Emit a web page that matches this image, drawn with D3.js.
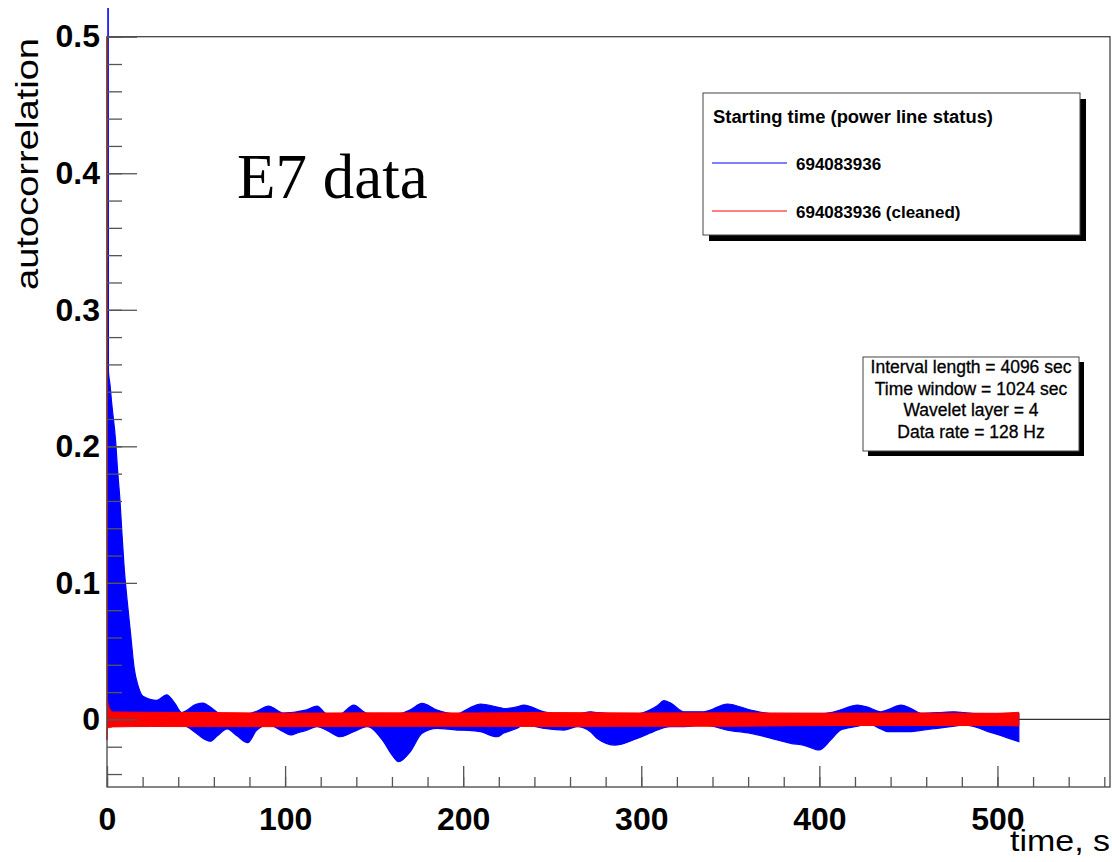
<!DOCTYPE html>
<html>
<head>
<meta charset="utf-8">
<script src="https://cdn.jsdelivr.net/npm/d3@7"></script>
<style>
body{margin:0;background:#fff;}
</style>
</head>
<body>
<div id="chart"></div>
<script>
// axis ticks
const timeTicks = [0,100,200,300,400,500];
const timeMinor = d3.range(0,561,20);
const corrTicks = [0,0.1,0.2,0.3,0.4,0.5];
const corrMinor = d3.range(-4,51,2).map(d=>d/100);

// blue band (raw), envelope
const blueTime = [0.5,0.8,1.7,2.6,4.9,5.8,7.3,8.4,9.6,11.4,13.3,15.2,17.6,20.2,28,33.5,38,42,50,54,58,62,67.5,73,79,84,90.7,99,103,106.6,112.2,117.9,123.5,131,138.5,146,155.3,160,163.7,170.3,176.9,185.3,196.6,203,209.7,219,222.8,230.3,234,245.3,256.5,264,271.5,275.3,285.6,297.7,305,309,312.7,316.5,324,335.2,348.3,361.4,376.4,383.9,391.4,399.8,406.4,412,421.4,427,434.5,438.3,445.8,451.4,457,466.4,475.7,481.3,488.9,492.6,503.8,512];
const blueHigh = [1.0,0.255,0.245,0.232,0.203,0.185,0.160,0.136,0.112,0.086,0.062,0.038,0.024,0.017,0.014,0.018,0.012,0.005,0.011,0.012,0.009,0.005,0.003,0.004,0.004,0.006,0.0098,0.0047,0.005,0.0056,0.007,0.0098,0.004,0.004,0.0105,0.0045,0.004,0.004,0.004,0.007,0.0118,0.0069,0.004,0.008,0.0113,0.009,0.008,0.0093,0.0105,0.0056,0.004,0.004,0.0056,0.005,0.004,0.004,0.007,0.010,0.0137,0.012,0.0056,0.0056,0.0113,0.0069,0.0037,0.004,0.004,0.004,0.005,0.007,0.0105,0.009,0.0056,0.007,0.0105,0.008,0.0045,0.005,0.0056,0.005,0.004,0.004,0.004,0.004];
const blueLow = [-0.004,-0.004,-0.004,-0.004,-0.004,-0.004,-0.004,-0.004,-0.004,-0.004,-0.004,-0.004,-0.004,-0.004,-0.004,-0.004,-0.004,-0.004,-0.010,-0.014,-0.016,-0.012,-0.007,-0.012,-0.017,-0.008,-0.004,-0.009,-0.0114,-0.010,-0.0078,-0.0053,-0.008,-0.0127,-0.009,-0.0053,-0.0163,-0.026,-0.031,-0.0236,-0.0102,-0.0065,-0.0078,-0.008,-0.009,-0.0127,-0.010,-0.0065,-0.004,-0.0065,-0.0078,-0.0053,-0.009,-0.0139,-0.0188,-0.0139,-0.010,-0.0078,-0.006,-0.0053,-0.0053,-0.004,-0.0078,-0.0102,-0.015,-0.0175,-0.019,-0.0224,-0.015,-0.0078,-0.005,-0.003,-0.007,-0.009,-0.009,-0.009,-0.008,-0.0065,-0.005,-0.004,-0.006,-0.0078,-0.0127,-0.0163];

// red band (cleaned)
const redTime = [0,0.3,1.5,3,25,60,100,150,200,250,300,350,400,450,500,512];
const redHigh = [1.0,0.014,0.008,0.0055,0.0052,0.005,0.0046,0.0048,0.0047,0.0050,0.0047,0.0048,0.0046,0.0047,0.0045,0.0052];
const redLow = [-0.015,-0.006,-0.006,-0.0055,-0.0052,-0.0053,-0.0053,-0.0050,-0.0050,-0.0052,-0.0050,-0.0050,-0.0045,-0.0045,-0.0045,-0.0048];

const legendTitle = "Starting time (power line status)";
const legendNames = ["694083936","694083936 (cleaned)"];
const legendColors = ["#0000ff","#ff0000"];
const infoLines = ["Interval length = 4096 sec","Time window = 1024 sec","Wavelet layer = 4","Data rate = 128 Hz"];

const width = 1112, height = 862;
const plotLeft = 107, plotRight = 1110, plotTop = 36.7, plotBottom = 787;

const svg = d3.select("#chart").append("svg")
    .attr("width", width)
    .attr("height", height)
    .style("font-family","'Liberation Sans', Arial, sans-serif");

svg.append("rect").attr("width",width).attr("height",height).attr("fill","#fff");

const x = d3.scaleLinear().domain([0,563.2]).range([plotLeft,plotRight]);
const y = d3.scaleLinear().domain([-0.0495,0.5]).range([plotBottom,plotTop]);

const defs = svg.append("defs");
defs.append("clipPath").attr("id","clipBlue").append("rect")
    .attr("x",plotLeft).attr("y",8).attr("width",plotRight-plotLeft).attr("height",plotBottom-8);
defs.append("clipPath").attr("id","clipRed").append("rect")
    .attr("x",plotLeft-1).attr("y",plotTop).attr("width",plotRight-plotLeft+1).attr("height",plotBottom-plotTop);

// zero line
svg.append("line")
    .attr("x1",x(0)).attr("x2",plotRight)
    .attr("y1",y(0)).attr("y2",y(0))
    .attr("stroke","#333").attr("stroke-width",1.2);

// bands
const blueData = blueTime.map((t,i)=>({t:t,hi:blueHigh[i],lo:blueLow[i]}));
const redData = redTime.map((t,i)=>({t:t,hi:redHigh[i],lo:redLow[i]}));
const area = d3.area()
    .curve(d3.curveMonotoneX)
    .x(d=>x(d.t))
    .y0(d=>y(d.lo))
    .y1(d=>y(d.hi));

svg.append("path")
    .datum(blueData)
    .attr("clip-path","url(#clipBlue)")
    .attr("d",area)
    .attr("fill","#0000ff")
    .attr("stroke","#0000ff")
    .attr("stroke-width",1.2);

svg.append("path")
    .datum(redData)
    .attr("clip-path","url(#clipRed)")
    .attr("d",area)
    .attr("fill","#ff0000")
    .attr("stroke","#ff0000")
    .attr("stroke-width",1);

// frame
svg.append("rect")
    .attr("x",plotLeft).attr("y",plotTop)
    .attr("width",plotRight-plotLeft).attr("height",plotBottom-plotTop)
    .attr("fill","none").attr("stroke","#444").attr("stroke-width",1.3);

// y axis
const fmtY = d=>d===0?"0":d3.format(".1f")(d);
const yMinor = svg.append("g")
    .attr("transform","translate("+plotLeft+",0)")
    .call(d3.axisLeft(y).tickValues(corrMinor).tickSize(-15).tickSizeOuter(0).tickFormat(""));
const yMajor = svg.append("g")
    .attr("transform","translate("+plotLeft+",0)")
    .call(d3.axisLeft(y).tickValues(corrTicks).tickSize(-30).tickSizeOuter(0).tickPadding(7).tickFormat(fmtY));

// x axis
const xMinor = svg.append("g")
    .attr("transform","translate(0,"+plotBottom+")")
    .call(d3.axisBottom(x).tickValues(timeMinor).tickSize(-10).tickSizeOuter(0).tickFormat(""));
const xMajor = svg.append("g")
    .attr("transform","translate(0,"+plotBottom+")")
    .call(d3.axisBottom(x).tickValues(timeTicks).tickSize(-21).tickSizeOuter(0).tickPadding(20).tickFormat(d3.format("d")));

[yMinor,yMajor,xMinor,xMajor].forEach(g=>{
    g.select(".domain").remove();
    g.selectAll(".tick line").attr("stroke","#555").attr("stroke-width",1.3);
});
[yMajor,xMajor].forEach(g=>{
    g.selectAll(".tick text")
        .attr("fill","#000")
        .attr("font-family","'Liberation Sans', Arial, sans-serif")
        .attr("font-weight","bold")
        .attr("font-size","32px");
});

// axis titles
svg.append("text")
    .attr("transform","translate(38,38) rotate(-90)")
    .attr("text-anchor","end")
    .attr("font-size","32px")
    .attr("textLength",252)
    .attr("lengthAdjust","spacingAndGlyphs")
    .text("autocorrelation");

svg.append("text")
    .attr("x",plotRight).attr("y",851)
    .attr("text-anchor","end")
    .attr("font-size","30px")
    .attr("textLength",100)
    .attr("lengthAdjust","spacingAndGlyphs")
    .text("time, s");

// annotation
svg.append("text")
    .attr("x",237).attr("y",198)
    .attr("font-family","'Liberation Serif', 'Times New Roman', serif")
    .attr("font-size","63px")
    .text("E7 data");

// legend
const lg = svg.append("g");
lg.append("rect").attr("x",709).attr("y",99).attr("width",377).attr("height",142).attr("fill","#000");
lg.append("rect").attr("x",703).attr("y",93).attr("width",377).attr("height",142)
    .attr("fill","#fff").attr("stroke","#444").attr("stroke-width",1);
lg.append("text")
    .attr("x",713).attr("y",123)
    .attr("font-weight","bold").attr("font-size","18px")
    .attr("textLength",280)
    .attr("lengthAdjust","spacingAndGlyphs")
    .text(legendTitle);
legendNames.forEach((name,i)=>{
    const yy = 163 + i*48;
    lg.append("line")
        .attr("x1",712).attr("x2",787)
        .attr("y1",yy).attr("y2",yy)
        .attr("stroke",legendColors[i]).attr("stroke-width",1.2);
    lg.append("text")
        .attr("x",796).attr("y",yy+7)
        .attr("font-weight","bold").attr("font-size","17px")
        .text(name);
});

// info box
const ib = svg.append("g");
ib.append("rect").attr("x",868).attr("y",362).attr("width",216).attr("height",94).attr("fill","#000");
ib.append("rect").attr("x",863).attr("y",357).attr("width",216).attr("height",94)
    .attr("fill","#fff").attr("stroke","#444").attr("stroke-width",1);
infoLines.forEach((s,i)=>{
    ib.append("text")
        .attr("x",971).attr("y",373 + i*21.7)
        .attr("text-anchor","middle")
        .attr("font-size","17.5px")
        .attr("stroke","#000").attr("stroke-width",0.3)
        .text(s);
});
</script>
</body>
</html>
